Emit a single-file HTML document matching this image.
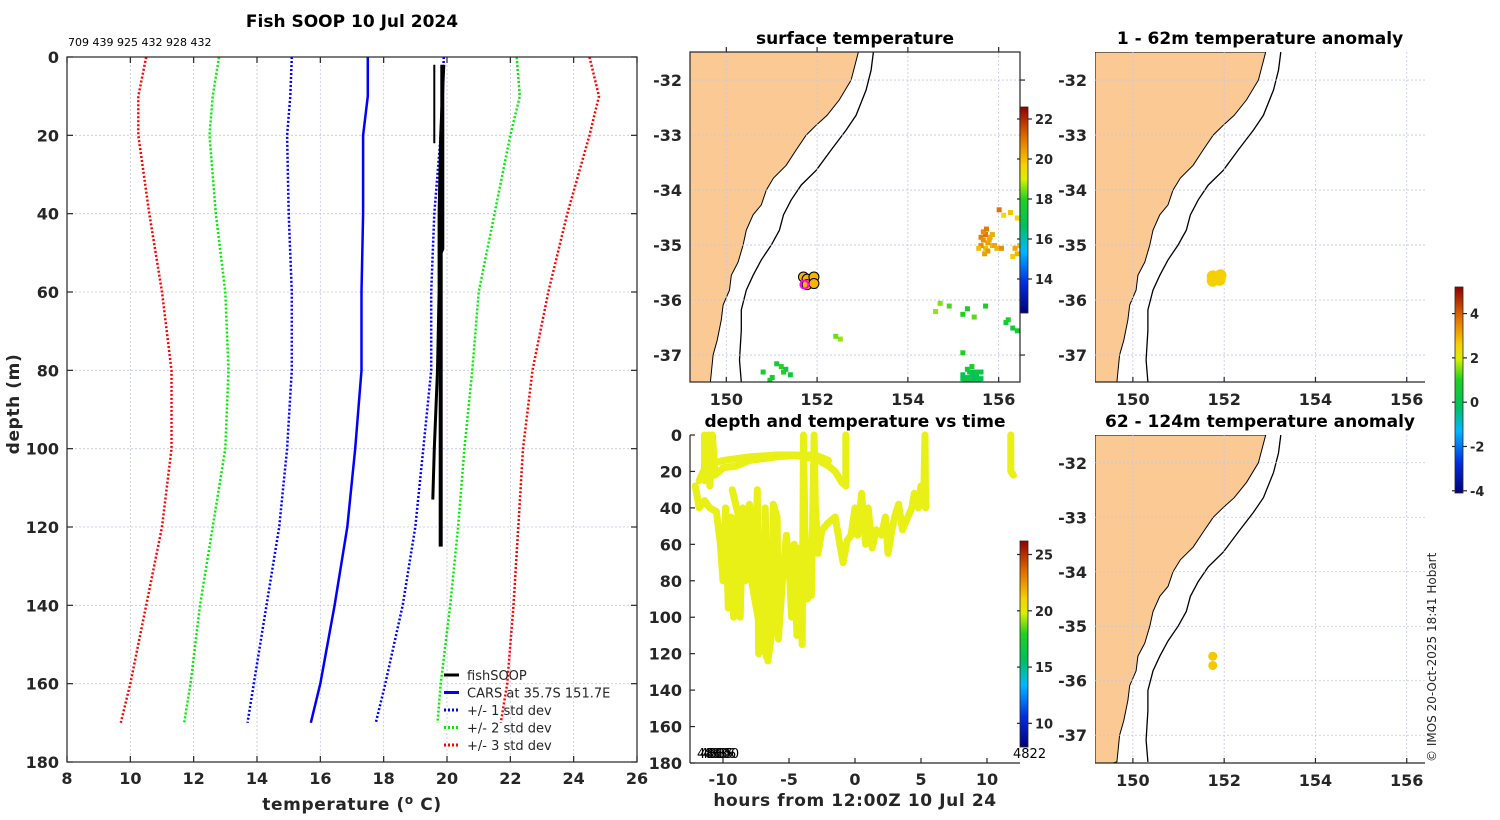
<!DOCTYPE html>
<html><head><meta charset="utf-8"><style>
html,body{margin:0;padding:0;background:#fff;}
svg{display:block;font-family:"DejaVu Sans","Liberation Sans",sans-serif;}
.tk{font-size:16px;font-weight:bold;fill:#262626;}
.ttl{font-size:17px;font-weight:bold;fill:#000;}
.axt{font-size:17px;font-weight:bold;fill:#262626;letter-spacing:0.6px;}
.grid{stroke:#c4c8e0;stroke-width:0.8;stroke-dasharray:2,2;fill:none;}
.ax{stroke:#262626;stroke-width:1.2;fill:none;}
</style></head><body>
<svg id="s" width="1500" height="820" viewBox="0 0 1500 820" xmlns="http://www.w3.org/2000/svg">
<defs>
<linearGradient id="jet" x1="0" y1="1" x2="0" y2="0">
<stop offset="0" stop-color="#00007a"/><stop offset="0.15" stop-color="#0030e0"/><stop offset="0.3" stop-color="#00b8ff"/><stop offset="0.42" stop-color="#00c060"/><stop offset="0.55" stop-color="#20d020"/><stop offset="0.65" stop-color="#d8f000"/><stop offset="0.72" stop-color="#f8d000"/><stop offset="0.85" stop-color="#e07000"/><stop offset="1" stop-color="#900000"/>
</linearGradient>
</defs>
<text class="ttl" x="352" y="27" text-anchor="middle">Fish SOOP 10 Jul 2024</text>
<text x="68" y="46" font-size="11" fill="#000">709 439 925 432 928 432</text>
<text class="ttl" x="855" y="44" text-anchor="middle">surface temperature</text>
<text class="ttl" x="1260" y="44" text-anchor="middle">1 - 62m temperature anomaly</text>
<text class="ttl" x="855" y="427" text-anchor="middle">depth and temperature vs time</text>
<text class="ttl" x="1260" y="427" text-anchor="middle">62 - 124m temperature anomaly</text>
<text class="axt" x="352" y="810" text-anchor="middle">temperature (<tspan font-size="12" dy="-6">o</tspan><tspan dy="6"> C)</tspan></text>
<text class="axt" transform="translate(19,404) rotate(-90)" text-anchor="middle">depth (m)</text>
<text class="axt" x="855" y="806" text-anchor="middle">hours from 12:00Z 10 Jul 24</text>
<text transform="translate(1436,762) rotate(-90)" font-size="12" fill="#262626">© IMOS 20-Oct-2025 18:41 Hobart</text>
<g id="g"></g>
</svg>
<script>
// ---- profile data ----
const depths=[0,10,20,40,60,80,100,120,140,160,170];
const carsMean=[17.5,17.5,17.35,17.35,17.3,17.3,17.1,16.85,16.45,16.0,15.7];
const sd1Lo=[15.1,15.05,14.95,15.0,15.1,15.1,14.95,14.7,14.3,13.9,13.7];
const sd1Hi=[19.9,19.85,19.8,19.6,19.5,19.5,19.25,19.0,18.6,18.05,17.75];
const sd2Lo=[12.8,12.6,12.5,12.7,13.0,13.1,13.0,12.6,12.2,11.9,11.7];
const sd2Hi=[22.2,22.3,22.0,21.5,21.0,20.8,20.55,20.35,20.1,19.8,19.7];
const sd3Lo=[10.5,10.25,10.25,10.6,11.0,11.3,11.3,11.0,10.5,10.0,9.7];
const sd3Hi=[24.5,24.8,24.5,23.8,23.2,22.7,22.4,22.25,22.1,21.9,21.7];
const fishDepthA=[2,20,40,49,50,80,100,125];
const fishTempA=[19.85,19.85,19.85,19.85,19.8,19.8,19.8,19.8];
const fishDepthB=[2,20,40,60,80,100,113];
const fishTempB=[19.9,19.8,19.75,19.75,19.7,19.6,19.55];
const fishDepthC=[2,22];
const fishTempC=[19.6,19.6];
const tempTicks=[8,10,12,14,16,18,20,22,24,26];
const depthTicks=[0,20,40,60,80,100,120,140,160,180];
// ---- time-depth data ----
const hoursTicks=[-10,-5,0,5,10];
const tdDepthTicks=[0,20,40,60,80,100,120,140,160,180];
const trace1H=[-11.8,-11.5,-11,-10,-9,-8,-6,-4.5,-4,-3,-2,-1.5,-1,-0.7,-0.7];
const trace1D=[25,20,16,14,13,12,11,11,12,13,17,20,26,28,0];
const trace2H=[-11.4,-11.4,-11.1,-11,-10.8,-10.6,-10,-9,-8,-6,-4,-3,-2];
const trace2D=[0,25,0,28,0,22,18,17,14,12,11,11,14];
const trace3H=[-12.1,-11.8,-11.4,-11,-10.5,-10.2,-10,-9.8,-9.6,-9.4,-9.2,-8.9,-8.7,-8.5,-8.3,-8,-7.8,-7.6,-7.4,-7.3,-7,-6.8,-6.6,-6.3,-6.2,-5.9,-5.8,-5.5,-5.2,-5,-4.8,-4.6,-4.4,-4.2,-4,-3.9,-3.8,-3.6,-3.5,-3.3,-3.1,-3,-2.8,-2.5,-2,-1.5,-1.2,-0.9,-0.6,-0.3,0,0.2,0.5,0.8,1,1.3,1.6,2,2.3,2.5,2.8,3,3.3,3.6,4,4.3,4.5,4.8,5,5.2,5.3,5.35];
const trace3D=[28,40,36,40,42,60,80,40,95,45,100,45,100,40,80,38,50,85,30,120,112,40,124,108,38,45,112,80,55,70,100,60,110,62,115,0,50,90,62,88,0,40,65,52,48,45,58,70,58,55,40,55,32,60,40,62,52,55,45,65,52,45,38,52,45,40,32,40,28,38,0,40];
const trace4H=[-9.3,-8.8,-8.2,-7.6,-7.1,-6.7];
const trace4D=[30,45,65,90,110,122];
const trace5H=[11.8,11.8,12];
const trace5D=[0,20,22];
// ---- map data ----
const lonTicks=[150,152,154,156];
const latTicks=[-32,-33,-34,-35,-36,-37];
const coastLon=[152.91,152.75,152.49,152.22,151.98,151.76,151.54,151.32,151.04,150.88,150.77,150.59,150.44,150.37,150.26,150.11,150.07,149.93,149.89,149.8,149.71,149.65];
const coastLat=[-31.49,-32.0,-32.36,-32.64,-32.82,-33.0,-33.27,-33.55,-33.78,-34.0,-34.27,-34.45,-34.73,-35.0,-35.31,-35.55,-35.82,-36.09,-36.36,-36.73,-37.0,-37.49];
const shelfLon=[153.24,153.19,153.08,152.86,152.64,152.31,151.98,151.65,151.43,151.26,151.17,150.99,150.77,150.59,150.44,150.33,150.33,150.29,150.33];
const shelfLat=[-31.49,-31.82,-32.18,-32.64,-32.91,-33.27,-33.64,-33.91,-34.18,-34.45,-34.73,-35.0,-35.27,-35.55,-35.82,-36.18,-36.55,-37.09,-37.49];
const sstLon=[155.6,155.65,155.7,155.75,155.8,155.7,155.75,155.85,155.6,155.55,156.35,156.4,156.3,156.45,155.9,156.0,155.2,155.3,155.4,155.5,155.6,155.35,155.45,155.55,155.3,155.4,156.15,156.2,156.3,154.7,154.9,155.3,155.2,151.1,151.2,151.3,150.8,152.5,152.4,155.7,156.1,155.65,155.72,155.78,155.68,155.85,155.95,156.05,156.25,156.4,155.25,155.35,155.45,155.5,155.6,155.3,155.42,155.55,155.2,151.0,151.25,151.4,150.95,156.4,155.2,155.45,154.6];
const sstLat=[-34.85,-34.9,-34.8,-34.95,-34.85,-35.05,-35.1,-35.0,-35.0,-35.05,-35.05,-35.15,-35.2,-35.0,-35.0,-34.35,-37.35,-37.4,-37.35,-37.4,-37.3,-37.45,-37.45,-37.45,-37.25,-37.2,-36.4,-36.35,-36.5,-36.05,-36.1,-36.15,-36.95,-37.15,-37.2,-37.25,-37.3,-36.7,-36.65,-36.1,-34.45,-34.75,-34.7,-34.9,-35.15,-34.8,-35.05,-35.05,-34.4,-34.5,-37.45,-37.3,-37.3,-37.35,-37.42,-37.48,-37.38,-37.3,-37.42,-37.4,-37.3,-37.35,-37.45,-36.55,-36.25,-36.3,-36.2];
const sstVal=[20.8,20.6,21.0,20.4,20.2,20.0,20.5,20.1,20.7,20.0,20.3,20.1,19.8,20.0,20.3,21.0,16.8,17.0,16.5,17.2,16.9,17.3,16.6,17.0,17.5,17.8,17.5,17.8,17.4,18.5,18.2,17.7,17.9,17.4,18.0,17.2,17.6,18.6,18.4,17.9,19.5,20.6,20.9,20.3,20.4,20.2,20.1,20.6,19.9,19.6,16.9,17.1,16.7,17.0,16.8,17.2,16.9,17.3,17.0,17.5,17.8,17.3,17.6,17.5,17.9,18.3,18.6];
const sstDotLon=[151.7,151.78,151.93,151.78,151.93];
const sstDotLat=[-35.58,-35.62,-35.58,-35.72,-35.7];
const anom1Lon=[151.75,151.92,151.75,151.9];
const anom1Lat=[-35.57,-35.55,-35.65,-35.63];
const anom2Lon=[151.75,151.75];
const anom2Lat=[-35.55,-35.72];
const cbSstTicks=[14,16,18,20,22];
const cbTdTicks=[10,15,20,25];
const cbAnomTicks=[-4,-2,0,2,4];

const NS='http://www.w3.org/2000/svg';
const G=document.getElementById('g');
function mk(tag,attrs,parent){const e=document.createElementNS(NS,tag);for(const k in attrs)e.setAttribute(k,attrs[k]);(parent||G).appendChild(e);return e;}
function txt(x,y,s,cls,anchor,parent){const t=mk('text',{x:x,y:y,class:cls||'tk','text-anchor':anchor||'middle'},parent);t.textContent=s;return t;}
function jet(v,lo,hi){const f=Math.max(0,Math.min(1,(v-lo)/(hi-lo)));const st=[[0,[0,0,122]],[0.15,[0,48,224]],[0.3,[0,184,255]],[0.42,[0,192,96]],[0.55,[32,208,32]],[0.65,[216,240,0]],[0.72,[248,208,0]],[0.85,[224,112,0]],[1,[144,0,0]]];for(let i=1;i<st.length;i++){if(f<=st[i][0]){const a=st[i-1],b=st[i];const t=(f-a[0])/(b[0]-a[0]);const c=a[1].map((x,j)=>Math.round(x+(b[1][j]-x)*t));return 'rgb('+c.join(',')+')';}}return 'rgb(144,0,0)';}

// ===== left profile plot =====
const P={x0:67,x1:637,y0:57,y1:762};
const px=t=>P.x0+(t-8)/18*(P.x1-P.x0);
const py=d=>P.y0+d/180*(P.y1-P.y0);
const lp=mk('g',{});


tempTicks.forEach(t=>{const x=px(t);if(t>8&&t<26){const l=mk('line',{x1:x,x2:x,y1:P.y0,y2:P.y1,class:'grid'},lp);}
 mk('line',{x1:x,x2:x,y1:P.y1,y2:P.y1-6,class:'ax'},lp);mk('line',{x1:x,x2:x,y1:P.y0,y2:P.y0+6,class:'ax'},lp);
 const t2=txt(x,P.y1+22,String(t),'tk','middle',lp);});
depthTicks.forEach(d=>{const y=py(d);if(d>0&&d<180){const l=mk('line',{x1:P.x0,x2:P.x1,y1:y,y2:y,class:'grid'},lp);}
 mk('line',{x1:P.x0,x2:P.x0+6,y1:y,y2:y,class:'ax'},lp);mk('line',{x1:P.x1,x2:P.x1-6,y1:y,y2:y,class:'ax'},lp);
 const t2=txt(P.x0-8,y+6,String(d),'tk','end',lp);});
function prof(ts,ds,col,w,dash,name){const pts=ts.map((t,i)=>px(t).toFixed(1)+','+py(ds[i]).toFixed(1)).join(' ');const e=mk('polyline',{points:pts,fill:'none',stroke:col,'stroke-width':w,'stroke-dasharray':dash||'none'},lp);}
prof(sd3Lo,depths,'#ff0000',2.5,'2,2','sd3-low-line');
prof(sd3Hi,depths,'#ff0000',2.5,'2,2','sd3-high-line');
prof(sd2Lo,depths,'#00ee00',2.5,'2,2','sd2-low-line');
prof(sd2Hi,depths,'#00ee00',2.5,'2,2','sd2-high-line');
prof(sd1Lo,depths,'#0000ff',2.5,'2,2','sd1-low-line');
prof(sd1Hi,depths,'#0000ff',2.5,'2,2','sd1-high-line');
prof(carsMean,depths,'#0000ff',2.5,null,'cars-mean-line');
prof(fishTempA,fishDepthA,'#000',4,null,'fishsoop-profile-a');
prof(fishTempB,fishDepthB,'#000',3,null,'fishsoop-profile-b');
prof(fishTempC,fishDepthC,'#000',2,null,'fishsoop-profile-c');
mk('rect',{x:P.x0,y:P.y0,width:P.x1-P.x0,height:P.y1-P.y0,class:'ax'},lp);
// legend
const leg=mk('g',{},lp);


const legItems=[['fishSOOP','#000','none'],['CARS at 35.7S 151.7E','#0000ff','none'],['+/- 1 std dev','#0000ff','2,2'],['+/- 2 std dev','#00ee00','2,2'],['+/- 3 std dev','#ff0000','2,2']];
legItems.forEach((it,i)=>{const y=675+i*17.5;const g=mk('g',{},leg);
 mk('line',{x1:444,x2:459,y1:y,y2:y,stroke:it[1],'stroke-width':3,'stroke-dasharray':it[2]},g);
 const t=mk('text',{x:467,y:y+5,'font-size':13,fill:'#262626'},g);t.textContent=it[0];});

// ===== maps =====
function mapPanel(M,name,opts){
 const g=mk('g',{});
 const mx=l=>M.x0+(l-M.lon0)/(M.lon1-M.lon0)*(M.x1-M.x0);
 const my=l=>M.y0+(M.lat0-l)/(M.lat0-M.lat1)*(M.y1-M.y0);
 const cp=mk('clipPath',{id:'c'+name},g);mk('rect',{x:M.x0,y:M.y0,width:M.x1-M.x0,height:M.y1-M.y0},cp);
 const inner=mk('g',{'clip-path':'url(#c'+name+')'},g);
 let land='M'+M.x0+','+M.y0+' ';coastLon.forEach((l,i)=>{land+='L'+mx(l).toFixed(1)+','+my(coastLat[i]).toFixed(1)+' ';});land+='L'+M.x0+','+(M.y1+5)+'Z';
 const ld=mk('path',{d:land,fill:'#fbc994',stroke:'#000','stroke-width':1},inner);
 const sh=mk('polyline',{points:shelfLon.map((l,i)=>mx(l).toFixed(1)+','+my(shelfLat[i]).toFixed(1)).join(' '),fill:'none',stroke:'#000','stroke-width':1.3},inner);
 lonTicks.forEach(l=>{const x=mx(l);mk('line',{x1:x,x2:x,y1:M.y0,y2:M.y1,class:'grid'},inner);mk('line',{x1:x,x2:x,y1:M.y1,y2:M.y1-5,class:'ax'},g);if(opts.box)mk('line',{x1:x,x2:x,y1:M.y0,y2:M.y0-5,class:'ax'},g);
  const t=txt(x,M.y1+23,String(l),'tk','middle',g);});
 latTicks.forEach(l=>{const y=my(l);mk('line',{x1:M.x0,x2:M.x1,y1:y,y2:y,class:'grid'},inner);if(opts.box){mk('line',{x1:M.x1,x2:M.x1+5,y1:y,y2:y,class:'ax'},g);}
  const t=txt(M.x0-8,y+6,String(l),'tk','end',g);});
 if(opts.box)mk('rect',{x:M.x0,y:M.y0,width:M.x1-M.x0,height:M.y1-M.y0,class:'ax'},g);
 else mk('line',{x1:M.x0,x2:M.x1,y1:M.y1,y2:M.y1,class:'ax'},g);
 return {g:inner,mx:mx,my:my};
}
const S=mapPanel({x0:690,x1:1020,y0:52,y1:382,lon0:149.2,lon1:156.47,lat0:-31.49,lat1:-37.49},'sst-map',{box:true});
sstLon.forEach((l,i)=>{const r=mk('rect',{x:S.mx(l)-2,y:S.my(sstLat[i])-2,width:5,height:5,fill:jet(sstVal[i],12.3,22.6)},S.g);});
sstDotLon.forEach((l,i)=>{const c=mk('circle',{cx:S.mx(l),cy:S.my(sstDotLat[i]),r:5,fill:'#f5b400',stroke:'#000','stroke-width':1},S.g);});
const mg=mk('circle',{cx:S.mx(151.72),cy:S.my(-35.72),r:4,fill:'none',stroke:'#ff00ff','stroke-width':2},S.g);



const A1=mapPanel({x0:1095,x1:1425,y0:52,y1:382,lon0:149.17,lon1:156.4,lat0:-31.49,lat1:-37.49},'anomaly-map-1',{box:false});
anom1Lon.forEach((l,i)=>{const c=mk('circle',{cx:A1.mx(l),cy:A1.my(anom1Lat[i]),r:6,fill:'#f5d000'},A1.g);});
const A2=mapPanel({x0:1095,x1:1425,y0:435,y1:763,lon0:149.17,lon1:156.4,lat0:-31.49,lat1:-37.51},'anomaly-map-2',{box:false});
anom2Lon.forEach((l,i)=>{const c=mk('circle',{cx:A2.mx(l),cy:A2.my(anom2Lat[i]),r:4.5,fill:'#f5c800'},A2.g);});

// ===== time-depth plot =====
const T={x0:690,x1:1020,y0:435,y1:763,h0:-12.5,h1:12.5};
const tx=h=>T.x0+(h-T.h0)/(T.h1-T.h0)*(T.x1-T.x0);
const ty=d=>T.y0+d/180*(T.y1-T.y0);
const tg=mk('g',{});


[[trace1H,trace1D],[trace2H,trace2D],[trace3H,trace3D],[trace4H,trace4D],[trace5H,trace5D]].forEach(tr=>{
 const e=mk('polyline',{points:tr[0].map((h,i)=>tx(h).toFixed(1)+','+ty(tr[1][i]).toFixed(1)).join(' '),fill:'none',stroke:'#e8f016','stroke-width':7,'stroke-linejoin':'round','stroke-linecap':'round'},tg);
 });
mk('line',{x1:T.x0,x2:T.x0,y1:T.y0,y2:T.y1,class:'ax'},tg);
mk('line',{x1:T.x0,x2:T.x1,y1:T.y1,y2:T.y1,class:'ax'},tg);
hoursTicks.forEach(h=>{const x=tx(h);mk('line',{x1:x,x2:x,y1:T.y1,y2:T.y1-5,class:'ax'},tg);const t=txt(x,T.y1+22,String(h),'tk','middle',tg);});
tdDepthTicks.forEach(d=>{const y=ty(d);mk('line',{x1:T.x0,x2:T.x0+5,y1:y,y2:y,class:'ax'},tg);const t=txt(T.x0-8,y+6,String(d),'tk','end',tg);});
['4840','4835','4836','4840'].forEach((s,i)=>{const t=mk('text',{x:697+i*3,y:758,'font-size':13,fill:'#000'},tg);t.textContent=s;});
const rid=mk('text',{x:1013,y:758,'font-size':13,fill:'#000'},tg);
rid.textContent='4822';



// ===== colorbars =====
function cbar(x,y0,y1,lo,hi,ticks,name){const g=mk('g',{});
 mk('rect',{x:x,y:y0,width:8,height:y1-y0,fill:'url(#jet)',stroke:'#262626','stroke-width':0.8},g);
 ticks.forEach(t=>{const y=y1-(t-lo)/(hi-lo)*(y1-y0);mk('line',{x1:x+8,x2:x+12,y1:y,y2:y,class:'ax'},g);mk('line',{x1:x-3,x2:x,y1:y,y2:y,class:'ax'},g);
  const tt=mk('text',{x:x+15,y:y+5,'font-size':13,'font-weight':'bold',fill:'#262626'},g);tt.textContent=String(t);});}
cbar(1020,107,313,12.3,22.6,cbSstTicks,'sst-colorbar');
cbar(1020,541,747,7.9,26.2,cbTdTicks,'time-colorbar');
cbar(1455,287,493,-4.1,5.2,cbAnomTicks,'anomaly-colorbar');
</script>
</body></html>
